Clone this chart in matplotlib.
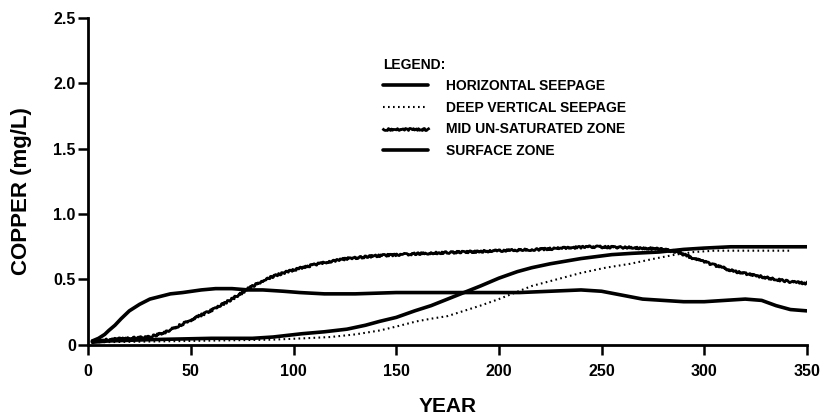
import matplotlib
matplotlib.use("Agg")
import matplotlib.pyplot as plt
from matplotlib.ticker import FixedLocator

plt.rcParams['font.family'] = ['Liberation Sans', 'DejaVu Sans']
plt.rcParams['font.weight'] = 'bold'

# Copper concentration (mg/L) against year for each zone
surface_years = [2, 5, 8, 10, 13, 16, 20, 25, 30, 35, 40, 46, 55, 62, 70, 78, 85, 95, 103,
                 115, 130, 150, 170, 190, 210, 225, 240, 250, 260, 270, 280, 290, 300,
                 310, 320, 328, 335, 342, 350]
surface_cu = [0.03, 0.05, 0.08, 0.11, 0.15, 0.20, 0.26, 0.31, 0.35, 0.37, 0.39, 0.40, 0.42,
              0.43, 0.43, 0.42, 0.42, 0.41, 0.40, 0.39, 0.39, 0.40, 0.40, 0.40, 0.40, 0.41,
              0.42, 0.41, 0.38, 0.35, 0.34, 0.33, 0.33, 0.34, 0.35, 0.34, 0.30, 0.27, 0.26]

mid_years = [2, 10, 20, 30, 38, 46, 54, 62, 70, 78, 86, 95, 104, 115, 126, 140, 151, 165,
             183, 200, 220, 245, 260, 270, 280, 287, 295, 305, 315, 325, 335, 343, 350]
mid_cu = [0.03, 0.04, 0.05, 0.06, 0.10, 0.16, 0.22, 0.28, 0.35, 0.43, 0.50, 0.55, 0.59,
          0.63, 0.66, 0.68, 0.69, 0.70, 0.71, 0.72, 0.73, 0.75, 0.745, 0.74, 0.73, 0.71,
          0.66, 0.61, 0.56, 0.53, 0.50, 0.48, 0.47]

horiz_years = [2, 10, 30, 60, 80, 90, 104, 115, 126, 135, 142, 150, 159, 167, 175, 183, 191,
               200, 209, 216, 225, 240, 255, 265, 278, 290, 300, 313, 330, 350]
horiz_cu = [0.02, 0.03, 0.04, 0.05, 0.05, 0.06, 0.085, 0.10, 0.12, 0.15, 0.18, 0.21, 0.26,
            0.30, 0.35, 0.40, 0.45, 0.51, 0.56, 0.59, 0.62, 0.66, 0.69, 0.70, 0.71, 0.73,
            0.74, 0.75, 0.75, 0.75]

deep_years = [5, 50, 90, 105, 118, 130, 142, 150, 160, 167, 175, 183, 191, 200, 208, 216,
              228, 240, 252, 264, 276, 286, 295, 305, 320, 335, 343]
deep_cu = [0.02, 0.03, 0.04, 0.05, 0.06, 0.08, 0.11, 0.14, 0.18, 0.20, 0.22, 0.26, 0.30,
           0.35, 0.40, 0.45, 0.50, 0.55, 0.59, 0.62, 0.66, 0.69, 0.71, 0.72, 0.72, 0.72, 0.72]

series_labels = ['HORIZONTAL SEEPAGE', 'DEEP VERTICAL SEEPAGE',
                 'MID UN-SATURATED ZONE', 'SURFACE ZONE']
x_ticks = [0, 50, 100, 150, 200, 250, 300, 350]
y_ticks = [0, 0.5, 1.0, 1.5, 2.0, 2.5]
y_ticklabels = ['0', '0.5', '1.0', '1.5', '2.0', '2.5']

fig = plt.figure(figsize=(8.25, 4.17), dpi=100)
ax = fig.add_axes([0.107, 0.173, 0.871, 0.784])

ax.plot(horiz_years, horiz_cu, color='black', lw=2.6, solid_capstyle='round',
        label=series_labels[0])
ax.plot(deep_years, deep_cu, color='black', lw=1.5, linestyle=(0, (0.8, 1.6)),
        label=series_labels[1])
mid_line, = ax.plot(mid_years, mid_cu, color='black', lw=2.0, label=series_labels[2])
mid_line.set_sketch_params(scale=1.0, length=2.5, randomness=3)
ax.plot(surface_years, surface_cu, color='black', lw=2.6, solid_capstyle='round',
        label=series_labels[3])

ax.set_xlim(0, 350)
ax.set_ylim(0, 2.5)
ax.xaxis.set_major_locator(FixedLocator(x_ticks))
ax.yaxis.set_major_locator(FixedLocator(y_ticks))
ax.set_yticklabels(y_ticklabels)

for side in ('top', 'right'):
    ax.spines[side].set_visible(False)
for side in ('left', 'bottom'):
    ax.spines[side].set_linewidth(2.0)

ax.tick_params(axis='both', direction='out', length=7, width=1.8, labelsize=11.5)
ax.tick_params(axis='x', pad=7)
ax.tick_params(axis='y', pad=2)
for lab in ax.get_xticklabels() + ax.get_yticklabels():
    lab.set_fontweight('bold')

ax.set_xlabel('YEAR', fontsize=15, fontweight='bold', labelpad=13)
ax.set_ylabel('COPPER (mg/L)', fontsize=16, fontweight='bold')
ax.yaxis.set_label_coords(-0.078, 0.47)

leg = ax.legend(loc='upper left', bbox_to_anchor=(0.401, 0.90), frameon=False,
                title='LEGEND:', alignment='left', fontsize=10,
                title_fontproperties={'size': 10, 'weight': 'bold'},
                handlelength=3.2, handletextpad=1.3, labelspacing=0.55, borderpad=0)
for t in leg.get_texts():
    t.set_fontweight('bold')

fig.savefig('out.png', dpi=100)
